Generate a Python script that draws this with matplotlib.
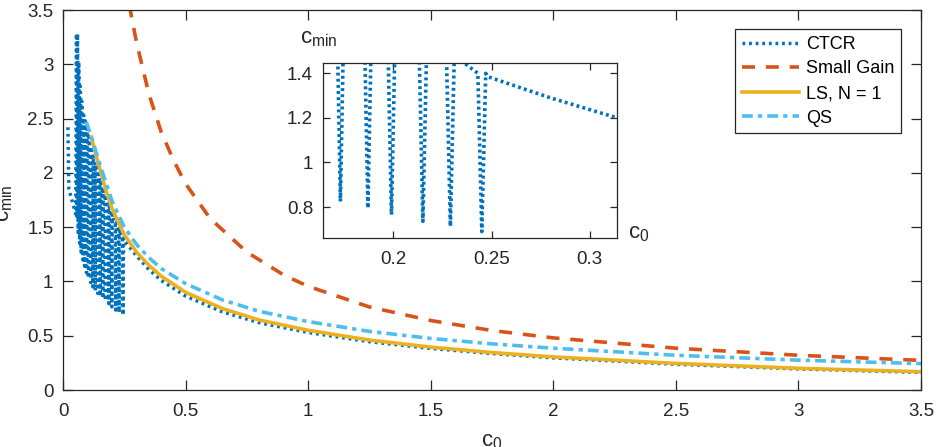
import matplotlib
matplotlib.use('Agg')
import matplotlib.pyplot as plt
import numpy as np

plt.rcParams['font.family'] = ['Liberation Sans', 'DejaVu Sans']
plt.rcParams['mathtext.fontset'] = 'custom'
plt.rcParams['mathtext.rm'] = 'Liberation Sans'
plt.rcParams['mathtext.it'] = 'Liberation Sans:italic'

# ---------------- data ----------------
# CTCR: leading branch, sawtooth teeth, and smooth tail
ctcr_start_c0 = [0.020, 0.024, 0.052]
ctcr_start_v = [2.42, 1.85, 1.62]
tooth_c0 = [0.057, 0.062, 0.068, 0.074, 0.081, 0.088, 0.096, 0.104, 0.113, 0.122,
            0.132, 0.142, 0.152, 0.162, 0.173, 0.187, 0.199, 0.215, 0.229, 0.245]
tooth_top = [3.28, 3.02, 2.80, 2.66, 2.56, 2.48, 2.41, 2.33, 2.24, 2.16,
             2.08, 1.99, 1.91, 1.84, 1.77, 1.69, 1.62, 1.54, 1.48, 1.40]
tooth_min = [1.60, 1.45, 1.35, 1.27, 1.20, 1.14, 1.08, 1.03, 0.99, 0.95,
             0.915, 0.89, 0.865, 0.845, 0.825, 0.795, 0.766, 0.736, 0.714, 0.69]
ctcr_tail_c0 = [0.248, 0.28, 0.314, 0.35, 0.4, 0.5, 0.65, 0.8, 1.0, 1.25, 1.5, 1.75, 2.0, 2.5, 3.0, 3.5]
ctcr_tail_v = [1.385, 1.29, 1.20, 1.11, 1.01, 0.865, 0.72, 0.62, 0.53, 0.445, 0.383, 0.336, 0.296, 0.237, 0.194, 0.162]

sg_c0 = [0.27, 0.3, 0.35, 0.4, 0.45, 0.5, 0.6, 0.75, 0.9, 1.0, 1.25, 1.5, 1.75, 2.0, 2.5, 3.0, 3.5]
sg_v = [3.55, 3.2, 2.73, 2.38, 2.12, 1.9, 1.58, 1.27, 1.06, 0.955, 0.765, 0.64, 0.548, 0.48, 0.385, 0.32, 0.273]

ls_c0 = [0.116, 0.13, 0.15, 0.175, 0.2, 0.25, 0.3, 0.35, 0.4, 0.5, 0.65, 0.8, 1.0, 1.25, 1.5, 1.75, 2.0, 2.5, 3.0, 3.5]
ls_v = [2.33, 2.2, 2.04, 1.84, 1.67, 1.43, 1.27, 1.15, 1.05, 0.90, 0.75, 0.645, 0.55, 0.46, 0.395, 0.345, 0.305, 0.245, 0.20, 0.168]

qs_c0 = [0.095, 0.12, 0.15, 0.2, 0.25, 0.3, 0.35, 0.4, 0.5, 0.65, 0.8, 1.0, 1.25, 1.5, 1.75, 2.0, 2.5, 3.0, 3.5]
qs_v = [2.47, 2.30, 2.08, 1.74, 1.50, 1.34, 1.22, 1.12, 0.98, 0.83, 0.725, 0.63, 0.54, 0.475, 0.425, 0.385, 0.32, 0.275, 0.243]

labels = ['CTCR', 'Small Gain', 'LS, N = 1', 'QS']
main_ticks = [0, 0.5, 1, 1.5, 2, 2.5, 3, 3.5]
inset_xticks = [0.2, 0.25, 0.3]
inset_yticks = [0.8, 1, 1.2, 1.4]

# ---------------- build CTCR path ----------------
half_w = 0.002
cx = list(ctcr_start_c0)
cy = list(ctcr_start_v)
for c, t, m in zip(tooth_c0, tooth_top, tooth_min):
    cx += [c - half_w, c, c + half_w]
    cy += [t, m, t]
cx += ctcr_tail_c0
cy += ctcr_tail_v

c_ctcr = '#0072BD'
c_sg = '#D95319'
c_ls = '#EDB120'
c_qs = '#4DBEEE'
axcol = '#262626'

fig = plt.figure(figsize=(9.39, 4.47), dpi=100)
ax = fig.add_axes([0.0671, 0.1275, 0.9137, 0.8501])

ax.plot(cx, cy, color=c_ctcr, lw=2.5, linestyle=(0, (0.8, 1.1)), label=labels[0])
ax.plot(sg_c0, sg_v, color=c_sg, lw=2.6, linestyle=(0, (3.6, 3.0)), label=labels[1])
ax.plot(ls_c0, ls_v, color=c_ls, lw=2.6, linestyle='-', label=labels[2])
ax.plot(qs_c0, qs_v, color=c_qs, lw=2.6, linestyle=(0, (3.0, 1.4, 1.2, 1.4)), label=labels[3])

ax.set_xlim(0, 3.5)
ax.set_ylim(0, 3.5)
ax.set_xticks(main_ticks)
ax.set_yticks(main_ticks)
ax.set_xticklabels([f'{t:g}' for t in main_ticks])
ax.set_yticklabels([f'{t:g}' for t in main_ticks])
ax.tick_params(direction='in', top=True, right=True, length=7, width=0.9,
               colors=axcol, labelsize=13.5)
ax.tick_params(axis='x', pad=9)
ax.tick_params(axis='y', pad=7)
for s in ax.spines.values():
    s.set_color(axcol)
    s.set_linewidth(0.9)

leg = ax.legend(loc='upper right', bbox_to_anchor=(0.9767, 0.95), fontsize=13,
                frameon=True, fancybox=False, framealpha=1, edgecolor=axcol,
                handlelength=3.2, handletextpad=0.35, labelspacing=0.42,
                borderpad=0.38, borderaxespad=0)
leg.get_frame().set_linewidth(0.9)

fig.text(0.005, 0.546, r'$\mathregular{c_{min}}$', rotation=90, ha='center', va='center',
         fontsize=16, color=axcol)
fig.text(0.524, 0.002, r'$\mathregular{c_0}$', ha='center', va='baseline',
         fontsize=16, color=axcol)

# ---------------- inset ----------------
ins = fig.add_axes([0.3437, 0.4669, 0.3137, 0.3915])
ins.plot(cx, cy, color=c_ctcr, lw=2.6, linestyle=(0, (0.8, 0.9)))
ins.set_xlim(0.164, 0.314)
ins.set_ylim(0.66, 1.445)
ins.set_xticks(inset_xticks)
ins.set_yticks(inset_yticks)
ins.set_xticklabels([f'{t:g}' for t in inset_xticks])
ins.set_yticklabels([f'{t:g}' for t in inset_yticks])
ins.tick_params(direction='in', top=True, right=True, length=5, width=0.9,
                colors=axcol, labelsize=13.5)
ins.tick_params(axis='x', pad=9)
ins.tick_params(axis='y', pad=7)
for s in ins.spines.values():
    s.set_color(axcol)
    s.set_linewidth(0.9)

fig.text(0.3195, 0.9038, r'$\mathregular{c_{min}}$', ha='left', va='baseline',
         fontsize=16, color=axcol)
fig.text(0.6688, 0.4676, r'$\mathregular{c_0}$', ha='left', va='baseline',
         fontsize=16, color=axcol)

fig.savefig('out.png', dpi=100)
